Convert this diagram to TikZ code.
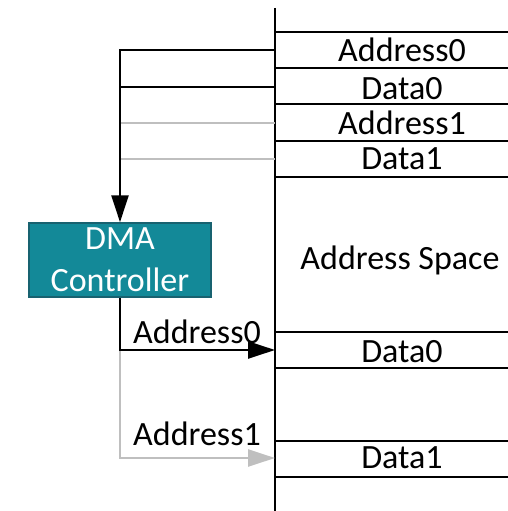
\documentclass[tikz,border=0pt]{standalone}
\usepackage{fontspec}
\setmainfont{Carlito}
\usetikzlibrary{arrows.meta}
\definecolor{dmateal}{RGB}{19,137,152}
\definecolor{dmaedge}{RGB}{24,98,112}
\definecolor{lightline}{RGB}{191,191,191}

\begin{document}
\begin{tikzpicture}[line join=miter,>={Triangle[length=27pt,width=17pt]},x=1pt,y=-1pt,
  every node/.style={font=\fontsize{34}{42}\selectfont},
  cell/.style={anchor=base},
  dma/.style={draw=dmaedge,line width=1.5pt,fill=dmateal,text=white,align=center,
    minimum width=182pt,minimum height=74pt,inner sep=0pt},
  bus/.style={line width=2.5pt},
  busgray/.style={line width=2.5pt,color=lightline}]
\useasboundingbox (0,0) rectangle (508,511);
%\draw[help lines] (0,0) grid[step=50] (508,511);
% address space
\draw[bus] (275,8) -- (275,511);
\foreach \y in {32,68,104,141,177,332,368,441,477}
  \draw[bus] (275,\y) -- (508,\y);
\node[cell] (a0) at (402,62) {Address0};
\node[cell] (d0) at (402,99) {Data0};
\node[cell] (a1) at (402,134) {Address1};
\node[cell] (d1) at (402,169) {Data1};
\node[cell] (space) at (400,269) {Address Space};
\node[cell] (d0b) at (402,362) {Data0};
\node[cell] (d1b) at (402,468) {Data1};
% controller
\node[dma] (dma) at (120,260) {DMA\\Controller};
\coordinate (pa0) at (275,50);
\coordinate (pd0) at (275,87);
\coordinate (pa1) at (275,123);
\coordinate (pd1) at (275,159);
\coordinate (wa0) at (275,350);
\coordinate (wa1) at (275,458);
% reads
\draw[busgray] (pa1) -- (pa1 -| dma.north);
\draw[busgray] (pd1) -- (pd1 -| dma.north);
\draw[bus,->] (pa0) -| (dma.north);
\draw[bus] (pd0) -- (pd0 -| dma.north);
% writes
\draw[busgray,->] (wa0 -| dma.south) |- (wa1);
\draw[bus,->] (dma.south) |- (wa0);
\node[cell] (la0) at (197,343) {Address0};
\node[cell] (la1) at (197,445) {Address1};
\end{tikzpicture}
\end{document}
